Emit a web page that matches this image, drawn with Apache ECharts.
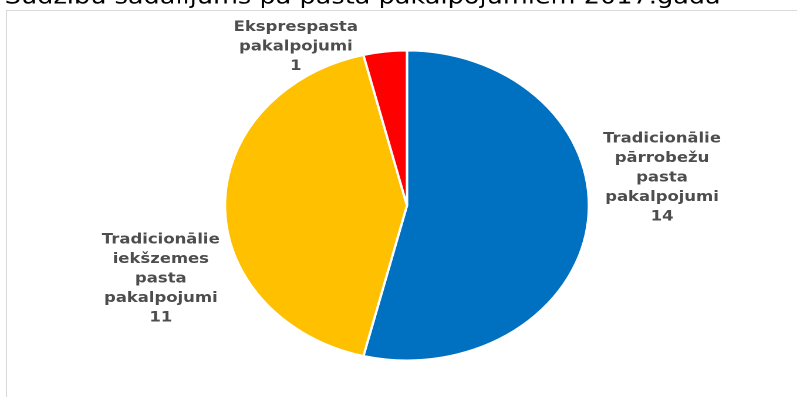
<!DOCTYPE html>
<html>
<head>
<meta charset="utf-8">
<script src="https://cdn.jsdelivr.net/npm/echarts@6/dist/echarts.min.js"></script>
<style>
  html, body { margin: 0; padding: 0; background: #fff; overflow: hidden; width: 797px; height: 397px; }
  #chart { width: 679px; height: 397px; transform: scaleX(1.1738); transform-origin: 0 0; }
</style>
</head>
<body>
<div id="chart"></div>
<script>
const titleText = 'Sūdzību sadalījums pa pasta pakalpojumiem 2017.gadā';
const categories = ['Tradicionālie\npārrobežu\npasta\npakalpojumi', 'Tradicionālie\niekšzemes\npasta\npakalpojumi', 'Eksprespasta\npakalpojumi'];
const values = [14, 11, 1];
const colors = ['#0070C0', '#FFC000', '#FF0000'];

const labelSpots = [[564, 178], [137, 279], [252, 47]];

const chart = echarts.init(document.getElementById('chart'), null, { devicePixelRatio: 2 });
chart.setOption({
  animation: false,
  title: {
    text: titleText,
    left: 4,
    top: -13,
    padding: 0,
    textStyle: { fontFamily: 'DejaVu Sans', fontSize: 21.8, fontWeight: 'normal', color: '#000', lineHeight: 22 }
  },
  graphic: [{
    type: 'rect',
    shape: { x: 5.5, y: 10.5, width: 700, height: 400 },
    style: { fill: 'none', stroke: '#d9d9d9', lineWidth: 1 },
    silent: true
  }],
  series: [{
    type: 'pie',
    center: [346.7, 205.5],
    radius: 155,
    startAngle: 90,
    clockwise: true,
    itemStyle: { borderColor: '#fff', borderWidth: 2 },
    label: {
      show: true,
      position: 'outside',
      formatter: p => p.name + '\n' + p.value,
      fontFamily: 'DejaVu Sans',
      fontWeight: 'bold',
      fontSize: 14,
      lineHeight: 19.5,
      color: '#4d4d4d',
      align: 'center'
    },
    labelLine: { show: false },
    labelLayout: function (params) {
      const s = labelSpots[params.dataIndex];
      return { x: s[0], y: s[1], align: 'center', verticalAlign: 'middle' };
    },
    data: categories.map((c, i) => ({ name: c, value: values[i], itemStyle: { color: colors[i] } }))
  }]
});
</script>
</body>
</html>
